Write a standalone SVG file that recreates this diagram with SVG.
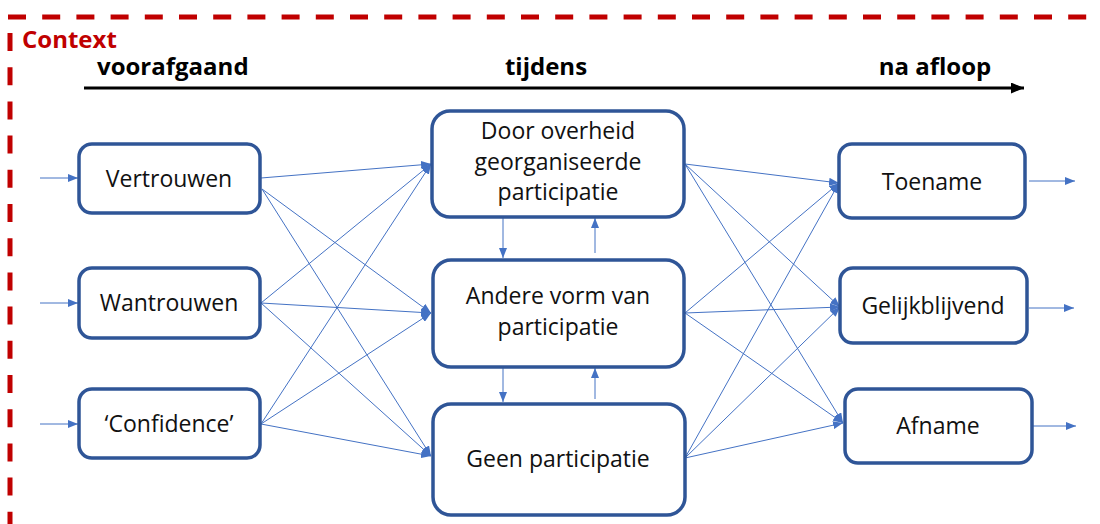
<svg xmlns="http://www.w3.org/2000/svg" width="1100" height="524" viewBox="0 0 1100 524">
<style>
.box{fill:#fff;stroke:#2F5597;stroke-width:3.5}
.t{font-family:"Open Sans","Liberation Sans",sans-serif;font-size:23px;fill:#111;text-anchor:middle}
.h{font-family:"Open Sans","Liberation Sans",sans-serif;font-size:24px;font-weight:bold;fill:#000}
.c{stroke:#4472C4;stroke-width:1;fill:none;marker-end:url(#ah)}
.ctx{stroke:#C00000;stroke-width:5;fill:none;stroke-dasharray:18 16.2}
</style>
<defs>
<marker id="ah" markerWidth="10" markerHeight="8" refX="10" refY="4" orient="auto" markerUnits="userSpaceOnUse">
<path d="M0,0 L10,4 L0,8 Z" fill="#4472C4"/>
</marker>
<marker id="tl" markerWidth="13" markerHeight="11" refX="13" refY="5.5" orient="auto" markerUnits="userSpaceOnUse">
<path d="M0,0 L13,5.5 L0,11 Z" fill="#000"/>
</marker>
</defs>
<g id="context">
<path class="ctx" d="M8,17 H1100"/>
<path class="ctx" d="M10,33 V524"/>
<text x="22" y="48" class="h" style="fill:#C00000">Context</text>
</g>
<g id="timeline">
<line x1="84" y1="88" x2="1024" y2="88" stroke="#000" stroke-width="3" marker-end="url(#tl)"/>
<text x="97" y="75" class="h">voorafgaand</text>
<text x="546" y="75" class="h" text-anchor="middle">tijdens</text>
<text x="935" y="75" class="h" text-anchor="middle">na afloop</text>
</g>
<g id="connectors">
<line class="c" x1="40" y1="178" x2="78" y2="178"/>
<line class="c" x1="40" y1="303" x2="78" y2="303"/>
<line class="c" x1="40" y1="424" x2="78" y2="424"/>
<line class="c" x1="261" y1="178" x2="431" y2="164"/>
<line class="c" x1="262" y1="189" x2="431" y2="313"/>
<line class="c" x1="262" y1="189" x2="431" y2="456"/>
<line class="c" x1="261" y1="303" x2="431" y2="164"/>
<line class="c" x1="261" y1="303" x2="431" y2="313"/>
<line class="c" x1="261" y1="303" x2="431" y2="456"/>
<line class="c" x1="261" y1="424" x2="431" y2="164"/>
<line class="c" x1="261" y1="424" x2="431" y2="313"/>
<line class="c" x1="261" y1="424" x2="431" y2="456"/>
<line class="c" x1="503" y1="218" x2="503" y2="258"/>
<line class="c" x1="595" y1="253" x2="595" y2="218"/>
<line class="c" x1="503" y1="366" x2="503" y2="402"/>
<line class="c" x1="595" y1="399" x2="595" y2="368"/>
<line class="c" x1="685" y1="164" x2="839" y2="183"/>
<line class="c" x1="685" y1="164" x2="840" y2="307"/>
<line class="c" x1="685" y1="164" x2="843" y2="423"/>
<line class="c" x1="685" y1="313" x2="839" y2="183"/>
<line class="c" x1="685" y1="313" x2="840" y2="307"/>
<line class="c" x1="685" y1="313" x2="843" y2="423"/>
<line class="c" x1="685" y1="458" x2="839" y2="183"/>
<line class="c" x1="685" y1="458" x2="840" y2="307"/>
<line class="c" x1="685" y1="458" x2="843" y2="423"/>
<line class="c" x1="1029" y1="181" x2="1075" y2="181"/>
<line class="c" x1="1029" y1="308" x2="1074" y2="308"/>
<line class="c" x1="1033" y1="426" x2="1076" y2="426"/>
</g>
<g id="vertrouwen">
<rect class="box" x="79" y="144" width="181" height="69" rx="13"/>
<text class="t" x="169" y="187">Vertrouwen</text>
</g>
<g id="wantrouwen">
<rect class="box" x="79" y="268" width="181" height="70" rx="13"/>
<text class="t" x="169" y="311">Wantrouwen</text>
</g>
<g id="confidence">
<rect class="box" x="79" y="389" width="181" height="69" rx="13"/>
<text class="t" x="169" y="432">‘Confidence’</text>
</g>
<g id="door-overheid">
<rect class="box" x="432" y="111" width="252" height="106" rx="18"/>
<text class="t" x="558" y="139">Door overheid</text>
<text class="t" x="558" y="170">georganiseerde</text>
<text class="t" x="558" y="200">participatie</text>
</g>
<g id="andere-vorm">
<rect class="box" x="433" y="260" width="251" height="107" rx="18"/>
<text class="t" x="558" y="304">Andere vorm van</text>
<text class="t" x="558" y="335">participatie</text>
</g>
<g id="geen-participatie">
<rect class="box" x="433" y="404" width="252" height="111" rx="18"/>
<text class="t" x="558" y="467">Geen participatie</text>
</g>
<g id="toename">
<rect class="box" x="839" y="144" width="186" height="74" rx="13"/>
<text class="t" x="932" y="190">Toename</text>
</g>
<g id="gelijkblijvend">
<rect class="box" x="840" y="268" width="187" height="75" rx="13"/>
<text class="t" x="933" y="314">Gelijkblijvend</text>
</g>
<g id="afname">
<rect class="box" x="845" y="389" width="187" height="74" rx="13"/>
<text class="t" x="938" y="434">Afname</text>
</g>
</svg>
